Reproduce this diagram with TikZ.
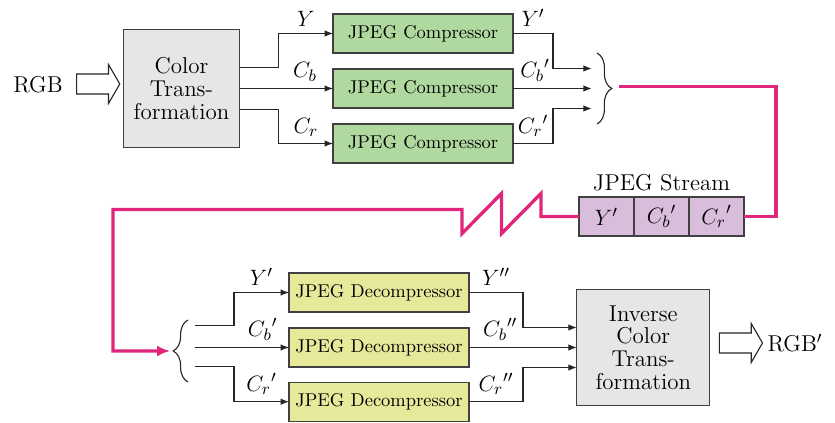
\documentclass[tikz,border=0pt]{standalone}
\usetikzlibrary{arrows.meta,positioning,shapes.arrows,decorations.pathreplacing}

\definecolor{compgreen}{HTML}{B0D9A0}
\definecolor{streampurple}{HTML}{D9BEDB}
\definecolor{decompyellow}{HTML}{E6E89A}
\definecolor{transgray}{HTML}{E6E6E8}
\definecolor{channelpink}{HTML}{E0267A}

\tikzset{
  block/.style={rectangle, draw=black!75, line width=0.6pt, text centered, inner sep=0pt, outer sep=0pt},
  compbox/.style={block, fill=compgreen, minimum width=3.42cm, minimum height=0.74cm, font=\normalsize},
  decompbox/.style={block, fill=decompyellow, minimum width=3.42cm, minimum height=0.74cm, font=\normalsize},
  transbox/.style={block, fill=transgray, align=center},
  streamcell/.style={block, fill=streampurple, minimum width=1.045cm, minimum height=0.74cm},
  fatarrow/.style={single arrow, draw=black!85, fill=white, line width=0.6pt, minimum height=0.82cm,
    inner xsep=0pt, inner ysep=0.18cm, single arrow head extend=0.18cm, single arrow tip angle=120},
  link/.style={draw=black!85, line width=0.6pt, -{Latex[length=4.5pt,width=3.5pt]}},
  channel/.style={draw=channelpink, line width=1.8pt},
  bundlebrace/.style={decorate, decoration={brace, amplitude=8pt}, draw=black!85, line width=0.6pt}
}

\begin{document}
\begin{tikzpicture}[x=0.019cm, y=-0.019cm, font=\fontsize{12.4}{12.2}\selectfont]
\useasboundingbox (0,0) rectangle (835,423);

% encoder side
\node (rgb) at (38,85) {RGB};
\node[fatarrow] (rgbarrow) at (95.3,84) {};
\node[transbox, minimum width=2.22cm, minimum height=2.24cm] (ct) at (181.5,88.5) {Color\\Trans-\\formation};

\node[compbox] (compY) at (423,33.5) {JPEG Compressor};
\node[compbox] (compCb) at (423,88.5) {JPEG Compressor};
\node[compbox] (compCr) at (423,143.5) {JPEG Compressor};

\draw[link] ([yshift=0.4cm]ct.east) -- ++(39,0) |- node[above, pos=0.75] {$Y$} (compY.west);
\draw[link] (ct.east) -- node[above, pos=0.7] {$C_b$} (compCb.west);
\draw[link] ([yshift=-0.4cm]ct.east) -- ++(39,0) |- node[above, pos=0.75] {$C_r$} (compCr.west);

% compressed channels into the brace
\coordinate (inY) at (591.7,68.5);
\coordinate (inCb) at (591.7,88.5);
\coordinate (inCr) at (591.7,108.5);
\draw[link] (compY.east) -- node[above] {$Y'$} ++(40,0) |- (inY);
\draw[link] (compCb.east) -- node[above, pos=0.28] {${C_b}'$} (inCb);
\draw[link] (compCr.east) -- node[above] {${C_r}'$} ++(40,0) |- (inCr);
\draw[bundlebrace] (597,53) -- (597,124);
\coordinate (bundle) at (619,86.5);

% stream
\node[streamcell] (sY) at (606.5,216.5) {$Y'$};
\node[streamcell, right=0pt of sY] (sCb) {${C_b}'$};
\node[streamcell, right=0pt of sCb] (sCr) {${C_r}'$};
\node[above=0pt of sCb] (stream) {JPEG Stream};

\draw[channel] (bundle) -- ++(157,0) |- (sCr.east);

% decoder side
\node[decompbox] (decY) at (379,292.5) {JPEG Decompressor};
\node[decompbox] (decCb) at (379,347.5) {JPEG Decompressor};
\node[decompbox] (decCr) at (379,401.7) {JPEG Decompressor};

\draw[bundlebrace] (188,382) -- (188,320);
\coordinate (unbundle) at (170,351);
\coordinate (outY) at (195,325.5);
\coordinate (outCb) at (195,347.5);
\coordinate (outCr) at (195,366.5);

\draw[channel, -{Latex[length=7pt,width=6pt]}] (sY.west) -- ++(-38,0) -- ++(0,-23) -- ++(-39.5,40) -- ++(0,-40)
  -- ++(-39.5,40) -- ++(0,-24) -- ++(-349,0) |- (unbundle);

\draw[link] (outY) -- ++(39,0) |- node[above, pos=0.75] {$Y'$} (decY.west);
\draw[link] (outCb) -- node[above, pos=0.72] {${C_b}'$} (decCb.west);
\draw[link] (outCr) -- ++(39,0) |- node[above, pos=0.75] {${C_r}'$} (decCr.west);

\node[transbox, minimum width=2.53cm, minimum height=2.22cm] (ict) at (643.3,347.5) {Inverse\\Color\\Trans-\\formation};

\draw[link] (decY.east) -- node[above] {$Y''$} ++(54,0) |- ([yshift=0.38cm]ict.west);
\draw[link] (decCb.east) -- node[above, pos=0.29] {${C_b}''$} (ict.west);
\draw[link] (decCr.east) -- node[above] {${C_r}''$} ++(54,0) |- ([yshift=-0.38cm]ict.west);

\node[fatarrow] (rgbarrow2) at (738,343) {};
\node (rgbout) at (795,343) {RGB$'$};

\end{tikzpicture}
\end{document}
